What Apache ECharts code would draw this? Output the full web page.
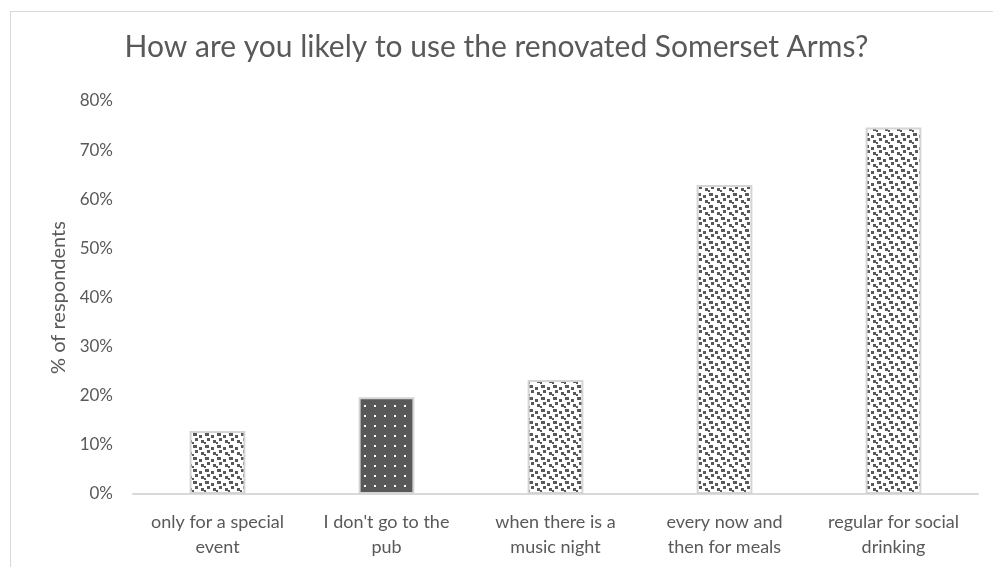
<!DOCTYPE html>
<html>
<head>
<meta charset="utf-8">
<script src="https://cdn.jsdelivr.net/npm/echarts@6/dist/echarts.min.js"></script>
<style>
html, body { margin: 0; padding: 0; background: #fff; overflow: hidden; }
.frame {
    position: absolute;
    left: 10px;
    top: 11px;
    width: 1200px;
    height: 800px;
    border: 1px solid #d9d9d9;
}
#main {
    position: absolute;
    left: 0;
    top: 0;
    width: 993px;
    height: 567px;
}
</style>
</head>
<body>
<div class="frame"></div>
<div id="main"></div>
<script>
// chart data
var categories = [
    'only for a special\nevent',
    "I don't go to the\npub",
    'when there is a\nmusic night',
    'every now and\nthen for meals',
    'regular for social\ndrinking'
];
var percentValues = [12.8, 19.7, 23.2, 62.9, 74.6];
var yTicks = [0, 10, 20, 30, 40, 50, 60, 70, 80];

var gray = '#595959';

// confetti style pattern: white ground, dark squares
function confettiTile() {
    var c = document.createElement('canvas');
    c.width = 12; c.height = 12;
    var ctx = c.getContext('2d');
    ctx.fillStyle = '#fff';
    ctx.fillRect(0, 0, 12, 12);
    ctx.fillStyle = gray;
    ctx.fillRect(1, 1, 4, 3);
    ctx.fillRect(7, 3, 3, 3);
    ctx.fillRect(3, 6, 3, 3);
    ctx.fillRect(9, 8, 3, 3);
    ctx.fillRect(0, 10, 2, 2);
    return c;
}
// dark ground with small white dots
function dotTile() {
    var c = document.createElement('canvas');
    c.width = 10; c.height = 10;
    var ctx = c.getContext('2d');
    ctx.fillStyle = gray;
    ctx.fillRect(0, 0, 10, 10);
    ctx.fillStyle = '#fff';
    ctx.fillRect(4, 5, 2, 2);
    return c;
}

var confetti = { image: confettiTile(), repeat: 'repeat' };
var dots = { image: dotTile(), repeat: 'repeat' };

var barData = percentValues.map(function (v, i) {
    return {
        value: v,
        itemStyle: { color: i === 1 ? dots : confetti }
    };
});

var myChart = echarts.init(document.getElementById('main'), null, { renderer: 'canvas' });
var option = {
    animation: false,
    title: {
        text: 'How are you likely to use the renovated Somerset Arms?',
        left: 'center',
        top: 27,
        textStyle: {
            fontFamily: 'Lato',
            fontSize: 30,
            fontWeight: 'normal',
            color: gray
        }
    },
    grid: {
        left: 133,
        right: 15,
        top: 101,
        bottom: 73
    },
    xAxis: {
        type: 'category',
        data: categories,
        axisLine: { lineStyle: { color: '#d9d9d9', width: 2 } },
        axisTick: { show: false },
        axisLabel: {
            color: gray,
            fontFamily: 'Lato',
            fontSize: 18,
            lineHeight: 25,
            margin: 16,
            interval: 0
        }
    },
    yAxis: {
        type: 'value',
        min: yTicks[0],
        max: yTicks[yTicks.length - 1],
        interval: 10,
        name: '% of respondents',
        nameLocation: 'middle',
        nameGap: 62,
        nameTextStyle: {
            color: gray,
            fontFamily: 'Lato',
            fontSize: 20
        },
        axisLine: { show: false },
        axisTick: { show: false },
        splitLine: { show: false },
        axisLabel: {
            color: gray,
            fontFamily: 'Lato',
            fontSize: 17,
            margin: 20,
            formatter: '{value}%'
        }
    },
    series: [
        {
            type: 'bar',
            data: barData,
            barWidth: '33%',
            itemStyle: {
                borderColor: '#d4d4d4',
                borderWidth: 2
            }
        }
    ]
};
myChart.setOption(option);
</script>
</body>
</html>
